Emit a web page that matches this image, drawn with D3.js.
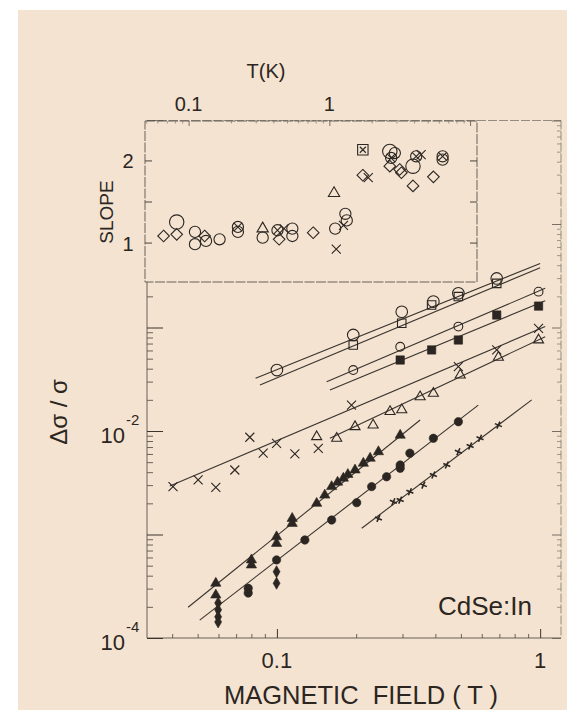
<!DOCTYPE html>
<html><head><meta charset="utf-8">
<script src="https://cdn.jsdelivr.net/npm/d3@7"></script>
<style>body{margin:0;background:#fff;} svg{display:block;}</style>
</head><body>
<svg id="c" width="567" height="710"></svg>
<script>
// ---------------- DATA ----------------
// main plot tick labels
const xTickVals = [0.1, 1];
const xTickLabels = ["0.1", "1"];
const yTickVals = [1e-2, 1e-4];
const yTickExp = ["-2", "-4"];
// series 1 : open circles
const s1B = [0.100, 0.195, 0.298, 0.393, 0.489, 0.684];
const s1Y = [0.0388, 0.0848, 0.142, 0.178, 0.214, 0.298];
// series 2 : open squares
const s2B = [0.195, 0.298, 0.387, 0.489, 0.684];
const s2Y = [0.0677, 0.110, 0.165, 0.199, 0.267];
// series 3 : small open circles
const s3B = [0.195, 0.294, 0.489, 0.986];
const s3Y = [0.0388, 0.0652, 0.102, 0.222];
// series 4 : filled squares
const s4B = [0.294, 0.387, 0.489, 0.684, 0.986];
const s4Y = [0.0485, 0.0607, 0.0757, 0.132, 0.161];
// series 5 : crosses
const s5B = [0.0403, 0.0502, 0.0586, 0.0692, 0.0789, 0.0887, 0.0997, 0.117, 0.1436, 0.192, 0.489, 0.684, 0.986];
const s5Y = [0.0029, 0.00337, 0.00286, 0.0042, 0.0087, 0.0061, 0.0076, 0.0060, 0.0068, 0.0178, 0.0418, 0.0607, 0.098];
// series 6 : open triangles
const s6B = [0.1416, 0.1687, 0.198, 0.232, 0.269, 0.298, 0.350, 0.393, 0.497, 0.694, 0.986];
const s6Y = [0.0088, 0.0085, 0.0110, 0.0114, 0.0154, 0.0160, 0.0214, 0.0231, 0.0347, 0.0515, 0.0757];
// series 7 : filled triangles
const s7B = [0.0586, 0.0586, 0.080, 0.080, 0.0997, 0.0997, 0.1143, 0.1143, 0.1416, 0.152, 0.1614, 0.170, 0.1788, 0.186, 0.198, 0.213, 0.226, 0.243, 0.294];
const s7Y = [0.000338, 0.00026, 0.000568, 0.000507, 0.00095, 0.00082, 0.00143, 0.00128, 0.0020, 0.0024, 0.0029, 0.0032, 0.0035, 0.0038, 0.0042, 0.00488, 0.00545, 0.0063, 0.0091];
// series 8 : filled circles and filled diamonds
const s8B = [0.0778, 0.0778, 0.0997, 0.1277, 0.1614, 0.201, 0.229, 0.261, 0.294, 0.294, 0.320, 0.393, 0.489];
const s8Y = [0.000302, 0.000272, 0.000568, 0.000885, 0.00138, 0.00203, 0.0029, 0.00361, 0.00469, 0.00436, 0.0061, 0.0085, 0.0123];
const s8dB = [0.0598, 0.0598, 0.0598, 0.0598, 0.0997, 0.0997];
const s8dY = [0.000218, 0.000187, 0.000160, 0.000143, 0.000437, 0.000338];
// series 9 : small plus markers
const s9B = [0.243, 0.277, 0.294, 0.320, 0.360, 0.393, 0.442, 0.489, 0.542, 0.591, 0.694];
const s9Y = [0.00143, 0.00207, 0.00215, 0.00259, 0.0030, 0.00376, 0.00469, 0.0063, 0.00716, 0.0085, 0.0114];
// fitted power-law lines (end points)
const fitB0 = [0.083, 0.0862, 0.1545, 0.159, 0.0392, 0.159, 0.046, 0.0509, 0.21];
const fitY0 = [0.0323, 0.0278, 0.0299, 0.0249, 0.00294, 0.0085, 0.000198, 0.000149, 0.00115];
const fitB1 = [1.0, 1.0, 1.045, 1.045, 1.045, 1.045, 0.35, 0.582, 0.929];
const fitY1 = [0.416, 0.378, 0.239, 0.1815, 0.102, 0.0815, 0.01276, 0.0178, 0.020];
// inset : slope vs temperature
const inT = [0.0664, 0.0823, 0.0823, 0.111, 0.111, 0.130, 0.133, 0.166, 0.224, 0.224, 0.336, 0.336, 0.428, 0.44, 0.477, 0.546, 0.546, 0.768, 1.08, 1.10, 1.12, 1.26, 1.30, 1.33,
             1.73, 1.73, 1.89, 2.69, 2.92, 2.69, 3.16, 3.25, 3.93, 3.93, 4.14, 4.49, 5.49, 6.38, 6.38, 2.75];
const inS = [1.08, 1.25, 1.10, 1.13, 0.98, 1.08, 1.02, 1.04, 1.19, 1.13, 1.17, 1.06, 1.15, 1.04, 1.17, 1.17, 1.08, 1.12, 1.60, 1.17, 0.92, 1.21, 1.35, 1.27,
             2.13, 1.82, 1.79, 2.11, 2.09, 1.93, 1.89, 1.85, 1.93, 1.69, 2.05, 2.07, 1.80, 2.05, 2.01, 2.03];
const inShape = ["diamond", "bigcircle", "diamond", "circle", "circle", "diamond", "circle", "circle", "circlex", "circle", "triangle", "circle", "circlex", "diamond", "cross", "circle", "circle", "diamond", "triangle", "circle", "cross", "cross", "circle", "circle",
                 "squarex", "diamond", "cross", "bigcircle", "circle", "diamond", "diamond", "diamond", "bigcircle", "diamond", "circlex", "cross", "diamond", "circlex", "circle", "circlex"];
const inXTickVals = [0.1, 1];
const inXTickLabels = ["0.1", "1"];
const inYTickVals = [1, 2];
const inYTickLabels = ["1", "2"];

// ---------------- DRAW ----------------
const ink = "#2b2622";
const bg = "#f4e3d0";
const font = "'Liberation Sans', Arial, Helvetica, sans-serif";
const svg = d3.select("#c");
svg.append("rect").attr("x", 18).attr("y", 10).attr("width", 549).attr("height", 700).attr("fill", bg);

const xMain = d3.scaleLog().domain([0.0321, 1.2]).range([147, 561]);
const yMain = d3.scaleLog().domain([1e-4, 10]).range([638, 120.5]);
const [X0, X1] = xMain.range();
const [Y0, Y1] = yMain.range();

function styleAxis(g, color, w) {
  g.select(".domain").remove();
  g.selectAll(".tick line").attr("stroke", color).attr("stroke-width", w);
  g.selectAll(".tick text").remove();
}
const isMajor = v => Math.abs(Math.log10(v) - Math.round(Math.log10(v))) < 1e-6;
const xAll = xMain.ticks(20);
const xMinorV = xAll.filter(v => !isMajor(v));
const xMajorV = xAll.filter(isMajor);
const yAll = yMain.ticks(60);
const yMinorV = yAll.filter(v => !isMajor(v));
const yMajorV = yAll.filter(isMajor);

// frame
const fr = svg.append("g").attr("stroke", "#5a534d").attr("stroke-width", 0.9).attr("fill", "none");
fr.append("line").attr("x1", X0).attr("x2", X0).attr("y1", Y1).attr("y2", Y0);
fr.append("line").attr("x1", X0).attr("x2", X1).attr("y1", Y0).attr("y2", Y0);
fr.append("line").attr("x1", X1).attr("x2", X1).attr("y1", Y1).attr("y2", Y0).attr("stroke-dasharray", "9,2").attr("stroke", "#8a8178");
fr.append("line").attr("x1", X0).attr("x2", X1).attr("y1", Y1).attr("y2", Y1).attr("stroke-dasharray", "9,2").attr("stroke", "#8a8178");

// axes ticks
svg.append("g").attr("transform", `translate(0,${Y0})`).call(d3.axisBottom(xMain).tickValues(xMinorV).tickSize(-4)).call(g => styleAxis(g, "#5a534d", 0.9));
svg.append("g").attr("transform", `translate(0,${Y0})`).call(d3.axisBottom(xMain).tickValues(xMajorV).tickSize(-9)).call(g => styleAxis(g, "#3a342f", 1));
svg.append("g").attr("transform", `translate(${X0},0)`).call(d3.axisLeft(yMain).tickValues(yMinorV).tickSize(-6)).call(g => styleAxis(g, "#5a534d", 0.9));
svg.append("g").attr("transform", `translate(${X0},0)`).call(d3.axisLeft(yMain).tickValues(yMajorV).tickSize(-16)).call(g => styleAxis(g, "#3a342f", 1));
svg.append("g").attr("transform", `translate(${X1},0)`).call(d3.axisRight(yMain).tickValues(yMinorV).tickSize(-4)).call(g => styleAxis(g, "#8a8178", 0.8));
svg.append("g").attr("transform", `translate(${X1},0)`).call(d3.axisRight(yMain).tickValues(yMajorV).tickSize(-9)).call(g => styleAxis(g, "#6a625b", 0.9));

// main labels
svg.selectAll(".xtl").data(xTickVals).enter().append("text")
  .attr("x", d => xMain(d)).attr("y", Y0 + 30).attr("text-anchor", "middle")
  .attr("font-family", font).attr("font-size", 22).attr("fill", ink)
  .text((d, i) => xTickLabels[i]);
yTickVals.forEach((v, i) => {
  svg.append("text").attr("x", 125).attr("y", yMain(v) + 12).attr("text-anchor", "end")
    .attr("font-family", font).attr("font-size", 22).attr("fill", ink).text("10");
  svg.append("text").attr("x", 126).attr("y", yMain(v) - 6).attr("text-anchor", "start")
    .attr("font-family", font).attr("font-size", 15).attr("fill", ink).text(yTickExp[i]);
});
svg.append("text").attr("x", 361).attr("y", 704).attr("text-anchor", "middle")
  .attr("font-family", font).attr("font-size", 25.5).attr("fill", ink).attr("xml:space", "preserve")
  .text("MAGNETIC  FIELD ( T )");
svg.append("text").attr("transform", "translate(67,412) rotate(-90)").attr("text-anchor", "middle")
  .attr("font-family", font).attr("font-size", 24).attr("fill", ink).attr("xml:space", "preserve")
  .text("\u0394\u03c3 / \u03c3");
svg.append("text").attr("x", 485).attr("y", 615).attr("text-anchor", "middle")
  .attr("font-family", font).attr("font-size", 26).attr("fill", ink).text("CdSe:In");

// fitted lines
const lineG = svg.append("g").attr("stroke", "#3a342f").attr("stroke-width", 1.1);
fitB0.forEach((b, i) => {
  lineG.append("line").attr("x1", xMain(b)).attr("y1", yMain(fitY0[i]))
    .attr("x2", xMain(fitB1[i])).attr("y2", yMain(fitY1[i]));
});

// marker helper
function mark(g, type, x, y) {
  const s = g.append("g").attr("transform", `translate(${x},${y})`);
  const open = {fill: "none", stroke: ink, "stroke-width": 1.1};
  const fill = {fill: ink, stroke: ink, "stroke-width": 0.6};
  const apply = (el, o) => { Object.entries(o).forEach(([k, v]) => el.attr(k, v)); return el; };
  switch (type) {
    case "ocircle": apply(s.append("circle").attr("r", 5.8), open); break;
    case "osmall": apply(s.append("circle").attr("r", 4.4), open); break;
    case "osquare": apply(s.append("path").attr("d", d3.symbol(d3.symbolSquare, 72)()), open); break;
    case "fsquare": apply(s.append("path").attr("d", d3.symbol(d3.symbolSquare, 70)()), fill); break;
    case "otri": apply(s.append("path").attr("d", d3.symbol(d3.symbolTriangle, 44)()), open); break;
    case "ftri": apply(s.append("path").attr("d", d3.symbol(d3.symbolTriangle, 46)()), fill); break;
    case "fcircle": apply(s.append("circle").attr("r", 4.2), fill); break;
    case "fdiamond": apply(s.append("path").attr("d", d3.symbol(d3.symbolDiamond, 42)()), fill); break;
    case "cross": apply(s.append("path").attr("d", "M-4.5,-4.5L4.5,4.5M-4.5,4.5L4.5,-4.5"), open); break;
    case "plus": apply(s.append("path").attr("d", "M-3.5,-1.5L3.5,1.5M-1.5,3.5L1.5,-3.5"), {fill: "none", stroke: ink, "stroke-width": 1.6}); break;
    // inset shapes
    case "circle": apply(s.append("circle").attr("r", 5.6), open); break;
    case "bigcircle": apply(s.append("circle").attr("r", 7.2), open); break;
    case "diamond": apply(s.append("path").attr("d", "M0,-5.8L5.8,0L0,5.8L-5.8,0Z"), open); break;
    case "triangle": apply(s.append("path").attr("d", d3.symbol(d3.symbolTriangle, 55)()), open); break;
    case "circlex":
      apply(s.append("circle").attr("r", 5.6), open);
      apply(s.append("path").attr("d", "M-3.8,-3.8L3.8,3.8M-3.8,3.8L3.8,-3.8"), open); break;
    case "squarex":
      apply(s.append("path").attr("d", "M-5.2,-5.2H5.2V5.2H-5.2Z"), open);
      apply(s.append("path").attr("d", "M-3,-3L3,3M-3,3L3,-3"), open); break;
  }
}
const mG = svg.append("g");
const series = [
  [s1B, s1Y, "ocircle"], [s2B, s2Y, "osquare"], [s3B, s3Y, "osmall"], [s4B, s4Y, "fsquare"],
  [s5B, s5Y, "cross"], [s6B, s6Y, "otri"], [s7B, s7Y, "ftri"], [s8B, s8Y, "fcircle"],
  [s8dB, s8dY, "fdiamond"], [s9B, s9Y, "plus"]
];
series.forEach(([bs, ys, t]) => bs.forEach((b, i) => mark(mG, t, xMain(b), yMain(ys[i]))));

// ---------------- INSET ----------------
const xIn = d3.scaleLog().domain([0.049, 11.2]).range([145, 477]);
const yIn = d3.scaleLinear().domain([0.52, 2.48]).range([282, 121]);
const [iX0, iX1] = xIn.range();
const [iY0, iY1] = yIn.range();
svg.append("rect").attr("x", iX0).attr("y", iY1).attr("width", iX1 - iX0).attr("height", iY0 - iY1)
  .attr("fill", bg).attr("stroke", "#5a534d").attr("stroke-width", 0.9).attr("stroke-dasharray", "10,1.5");
svg.append("g").attr("transform", `translate(${iX0},0)`).call(d3.axisLeft(yIn).tickValues([1, 1.5, 2]).tickSize(-7)).call(g => styleAxis(g, "#4a443f", 1));
svg.append("g").attr("transform", `translate(${iX1},0)`).call(d3.axisRight(yIn).tickValues([1, 1.5, 2]).tickSize(-7)).call(g => styleAxis(g, "#4a443f", 1));
const tAll = xIn.ticks(20);
svg.append("g").attr("transform", `translate(0,${iY1})`).call(d3.axisTop(xIn).tickValues(tAll.filter(isMajor)).tickSize(-5)).call(g => styleAxis(g, "#6a625b", 0.9));
svg.append("g").attr("transform", `translate(0,${iY1})`).call(d3.axisTop(xIn).tickValues(tAll.filter(v => !isMajor(v))).tickSize(-2.5)).call(g => styleAxis(g, "#8a8178", 0.8));

svg.selectAll(".itl").data(inXTickVals).enter().append("text")
  .attr("x", d => xIn(d)).attr("y", 111).attr("text-anchor", "middle")
  .attr("font-family", font).attr("font-size", 20).attr("fill", ink)
  .text((d, i) => inXTickLabels[i]);
svg.append("text").attr("x", 266).attr("y", 78).attr("text-anchor", "middle")
  .attr("font-family", font).attr("font-size", 20).attr("fill", ink).text("T(K)");
svg.selectAll(".iyl").data(inYTickVals).enter().append("text")
  .attr("x", 128).attr("y", d => yIn(d) + 8).attr("text-anchor", "middle")
  .attr("font-family", font).attr("font-size", 20).attr("fill", ink)
  .text((d, i) => inYTickLabels[i]);
svg.append("text").attr("transform", "translate(113,212) rotate(-90)").attr("text-anchor", "middle")
  .attr("font-family", font).attr("font-size", 19).attr("fill", ink).text("SLOPE");

const iG = svg.append("g");
inT.forEach((t, i) => mark(iG, inShape[i], xIn(t), yIn(inS[i])));
</script>
</body></html>
